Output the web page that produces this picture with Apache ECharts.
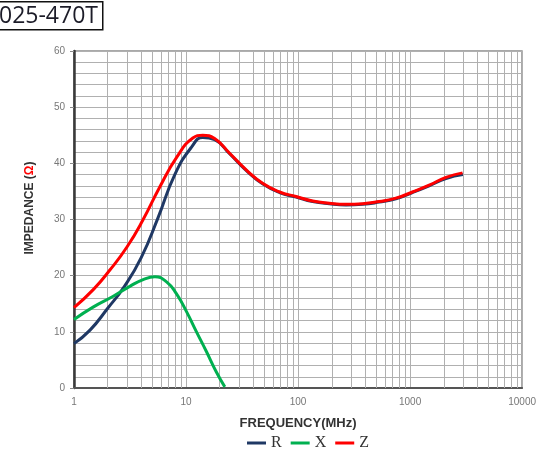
<!DOCTYPE html>
<html>
<head>
<meta charset="utf-8">
<script src="https://cdn.jsdelivr.net/npm/echarts@6/dist/echarts.min.js"></script>
<style>html,body{margin:0;padding:0;background:#fff}#c{width:539px;height:449px}</style>
</head>
<body>
<div id="c"></div>
<script>
// Data (frequency in MHz, impedance in ohms)
const rFreq = [1, 1.39, 2.0, 2.82, 3.98, 5.62, 7.94, 11.2, 14.1, 18, 24.5, 34.6, 48.6, 68.4, 96, 135, 190, 268, 377, 530, 747, 1050, 1480, 2090, 2960];
const rVals = [7.9, 10.3, 14.2, 18.1, 23.2, 30.3, 38.0, 42.9, 44.6, 44.2, 41.7, 38.7, 36.3, 34.8, 34.0, 33.2, 32.8, 32.6, 32.7, 33.1, 33.7, 34.8, 36.0, 37.3, 38.0];
const xFreq = [1, 1.48, 2.22, 3.15, 4.14, 5.27, 6.7, 8.2, 10.1, 12.4, 15.2, 18.6, 22.2];
const xVals = [12.2, 14.4, 16.3, 18.1, 19.3, 19.8, 18.9, 16.8, 13.6, 10.0, 6.5, 2.9, 0.2];
const zFreq = [1, 1.5, 2.09, 2.97, 4.12, 5.83, 8.27, 11.5, 14.1, 18, 24.5, 34.6, 48.6, 68.4, 96, 135, 190, 268, 377, 530, 747, 1050, 1480, 2090, 2940];
const zVals = [14.3, 17.6, 21.0, 25.1, 29.9, 35.8, 41.1, 44.5, 45.0, 44.4, 41.8, 38.8, 36.4, 34.9, 34.1, 33.3, 32.9, 32.7, 32.8, 33.2, 33.8, 34.9, 36.1, 37.5, 38.3];
const seriesNames = ['R', 'X', 'Z'];
const xTickLabels = ['1', '10', '100', '1000', '10000'];
const yTicks = [0, 10, 20, 30, 40, 50, 60];
const titleText = '025-470T';
const xName = 'FREQUENCY(MHz)';

// minor vertical grid positions for the log axis (2..9 within each decade)
const minorX = [];
[1, 10, 100, 1000].forEach(function (d) { for (let k = 2; k <= 9; k++) minorX.push(k * d); });

function pairs(f, v) { return f.map(function (x, i) { return [x, v[i]]; }); }

const chart = echarts.init(document.getElementById('c'), null, { renderer: 'canvas' });
const gridColor = '#b0b0b0';
chart.setOption({
  animation: false,
  backgroundColor: '#fff',
  grid: { left: 74, right: 16, top: 51, bottom: 61, show: true, borderColor: '#555', borderWidth: 1.2, backgroundColor: '#fff' },
  xAxis: {
    type: 'log', logBase: 10, min: 1, max: 10000,
    name: xName, nameLocation: 'middle', nameGap: 29,
    nameTextStyle: { fontFamily: 'Liberation Sans', fontWeight: 'bold', fontSize: 13, color: '#333' },
    axisLine: { show: true, lineStyle: { color: '#555', width: 2 } },
    axisTick: { show: false },
    axisLabel: { fontFamily: 'Liberation Sans', fontSize: 10, color: '#777', margin: 9,
      formatter: function (v) { const i = Math.round(Math.log10(v)); return xTickLabels[i] || ''; } },
    splitLine: { show: true, lineStyle: { color: gridColor, width: 1 } }
  },
  yAxis: {
    type: 'value', min: yTicks[0], max: yTicks[yTicks.length - 1], interval: 10,
    axisLine: { show: true, lineStyle: { color: '#3a3a3a', width: 2.5 } },
    axisTick: { show: true, length: 4, lineStyle: { color: '#888' } },
    axisLabel: { fontFamily: 'Liberation Sans', fontSize: 10, color: '#777', margin: 9 },
    splitLine: { show: true, lineStyle: { color: gridColor, width: 1 } },
    minorTick: { show: false, splitNumber: 5 },
    minorSplitLine: { show: true, lineStyle: { color: gridColor, width: 1 } }
  },
  legend: {
    left: 242, top: 430,
    itemWidth: 19, itemHeight: 3, itemGap: 9,
    icon: 'rect',
    textStyle: { fontFamily: 'Liberation Serif', fontSize: 16, color: '#333' },
    data: seriesNames
  },
  series: [
    { name: seriesNames[0], type: 'line', data: pairs(rFreq, rVals), smooth: 0.5, symbol: 'none',
      lineStyle: { color: '#1f3864', width: 3 }, itemStyle: { color: '#1f3864' }, z: 3,
      markLine: { silent: true, symbol: 'none', label: { show: false },
        lineStyle: { color: gridColor, width: 1, type: 'solid' },
        data: minorX.map(function (x) { return { xAxis: x }; }), z: 1 } },
    { name: seriesNames[1], type: 'line', data: pairs(xFreq, xVals), smooth: 0.5, symbol: 'none',
      lineStyle: { color: '#00b050', width: 3 }, itemStyle: { color: '#00b050' }, z: 4 },
    { name: seriesNames[2], type: 'line', data: pairs(zFreq, zVals), smooth: 0.5, symbol: 'none',
      lineStyle: { color: '#ff0000', width: 3 }, itemStyle: { color: '#ff0000' }, z: 5 }
  ],
  graphic: [
    { type: 'rect', left: -5, top: 1, shape: { width: 107, height: 28 },
      style: { fill: '#fff', stroke: '#111', lineWidth: 1.5 }, z: 10 },
    { type: 'text', x: -1, y: 16, z: 11,
      style: { text: titleText, fontFamily: 'Open Sans', fontSize: 23, fill: '#1c1c28', verticalAlign: 'middle', align: 'left' } },
    { type: 'text', x: 30, y: 208, rotation: Math.PI / 2, z: 11,
      style: { text: '{a|IMPEDANCE (}{b|Ω}{a|)}', align: 'center', verticalAlign: 'middle',
        rich: { a: { fontFamily: 'Liberation Sans', fontWeight: 'bold', fontSize: 12, fill: '#333', color: '#333' },
                b: { fontFamily: 'Liberation Sans', fontWeight: 'bold', fontSize: 12, fill: '#ff0000', color: '#ff0000' } } } }
  ]
});
</script>
</body>
</html>
